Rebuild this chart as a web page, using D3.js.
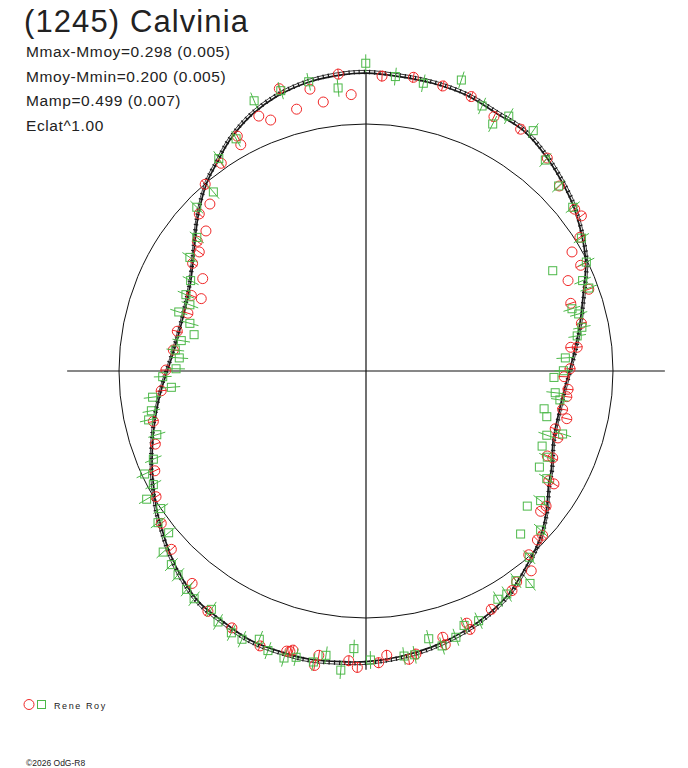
<!DOCTYPE html>
<html>
<head>
<meta charset="utf-8">
<script src="https://cdn.jsdelivr.net/npm/d3@7"></script>
<style>
  body { margin: 0; background: #fff; }
  text { font-family: "Liberation Sans", Arial, sans-serif; fill: #222; }
</style>
</head>
<body>
<div id="chart"></div>
<script>
// polar lightcurve, units: mean-brightness circle = 1
var title = '(1245) Calvinia';
var statLines = ['Mmax-Mmoy=0.298 (0.005)', 'Mmoy-Mmin=0.200 (0.005)', 'Mamp=0.499 (0.007)', 'Eclat^1.00'];
var observer = 'Rene Roy';
var footer = '\u00A92026 OdG-R8';

// fitted curve, read around the plot
var fitCurve = [
  [0, 1.206], [0.135, 1.192], [0.270, 1.165], [0.405, 1.117], [0.540, 1.036], [0.634, 0.976],
  [0.729, 0.868], [0.810, 0.733], [0.850, 0.638], [0.889, 0.45], [0.880, 0.315], [0.864, 0.179],
  [0.842, 0.072], [0.821, -0.009], [0.799, -0.090], [0.777, -0.185], [0.758, -0.279], [0.750, -0.401],
  [0.740, -0.455], [0.729, -0.576], [0.702, -0.684], [0.648, -0.792], [0.580, -0.900], [0.499, -0.981],
  [0.405, -1.049], [0.270, -1.116], [0.135, -1.157], [0, -1.177], [-0.092, -1.177], [-0.227, -1.167],
  [-0.335, -1.140], [-0.470, -1.089], [-0.591, -1.005], [-0.672, -0.940], [-0.740, -0.846], [-0.794, -0.738],
  [-0.821, -0.657], [-0.847, -0.563], [-0.861, -0.455], [-0.866, -0.387], [-0.861, -0.252], [-0.845, -0.145],
  [-0.821, -0.050], [-0.794, 0.031], [-0.769, 0.112], [-0.740, 0.220], [-0.713, 0.341], [-0.700, 0.445],
  [-0.680, 0.625], [-0.645, 0.760], [-0.604, 0.841], [-0.551, 0.935], [-0.470, 1.030], [-0.362, 1.111],
  [-0.227, 1.171], [-0.092, 1.200]
];

// session 1 (red circles), third value 0 = no error bar drawn
var redPoints = [
  [-0.112, 1.202], [-0.351, 1.143], [-0.227, 1.141, 0], [-0.060, 1.119, 0], [-0.173, 1.089, 0], [-0.281, 1.060, 0],
  [-0.434, 1.032, 0], [-0.386, 1.016, 0], [-0.521, 0.951], [-0.507, 0.916, 0], [-0.586, 0.841], [-0.651, 0.756],
  [-0.632, 0.676, 0], [-0.675, 0.636], [-0.648, 0.567, 0], [-0.683, 0.525], [-0.675, 0.482],
  [0.065, 1.194], [0.192, 1.189], [0.311, 1.154], [0.426, 1.111], [0.518, 1.030], [0.626, 0.979],
  [0.734, 0.862], [0.783, 0.749], [0.845, 0.655], [0.872, 0.628], [0.866, 0.541], [0.834, 0.482, 0],
  [0.869, 0.428], [0.818, 0.366, 0], [0.902, 0.331], [0.829, 0.274], [0.872, 0.193], [0.855, 0.096],
  [0.829, 0.096], [0.826, 0.009], [0.802, -0.023], [0.818, -0.074], [0.813, -0.104], [0.796, -0.155],
  [0.813, -0.193], [0.766, -0.234], [0.777, -0.271], [0.734, -0.344], [0.756, -0.352],
  [0.740, -0.444], [0.761, -0.457], [0.729, -0.547], [0.707, -0.568], [0.715, -0.665], [0.694, -0.684],
  [0.659, -0.744], [0.669, -0.809, 0], [0.610, -0.854], [0.591, -0.889], [0.507, -0.965], [0.408, -1.021],
  [0.421, -1.046], [0.311, -1.078], [0.321, -1.108], [0.202, -1.146], [0.173, -1.167], [0.084, -1.151],
  [0.051, -1.181],
  [-0.855, -0.404], [-0.850, -0.509], [-0.829, -0.617], [-0.788, -0.722], [-0.704, -0.860], [-0.640, -0.973],
  [-0.543, -1.040], [-0.429, -1.113], [-0.308, -1.135], [-0.321, -1.134], [-0.296, -1.130], [-0.191, -1.151],
  [-0.208, -1.192], [-0.070, -1.173], [-0.035, -1.200],
  [-0.702, 0.436], [-0.661, 0.374, 0], [-0.707, 0.306], [-0.667, 0.293, 0], [-0.721, 0.234], [-0.764, 0.161],
  [-0.780, 0.085], [-0.810, 0.004], [-0.829, -0.080], [-0.861, -0.204], [-0.853, -0.296]
];

// session 2 (green squares)
var greenPoints = [
  [-0.001, 1.246], [-0.232, 1.171], [-0.113, 1.146], [-0.345, 1.135], [-0.453, 1.094], [-0.526, 0.940],
  [-0.596, 0.860], [-0.618, 0.725], [-0.685, 0.663], [-0.685, 0.541], [-0.713, 0.460],
  [0.119, 1.192], [0.232, 1.165], [0.386, 1.178], [0.470, 1.073], [0.578, 1.032], [0.513, 1.000],
  [0.677, 0.973], [0.726, 0.854], [0.780, 0.749], [0.837, 0.663], [0.872, 0.538], [0.892, 0.441],
  [0.756, 0.406, 0], [0.877, 0.366], [0.902, 0.336], [0.834, 0.252], [0.861, 0.231], [0.874, 0.177],
  [0.855, 0.142], [0.807, 0.053], [0.799, 0.001], [0.761, -0.026, 0], [0.766, -0.088], [0.785, -0.117],
  [0.721, -0.153, 0], [0.732, -0.185, 0], [0.732, -0.260], [0.796, -0.255], [0.713, -0.304, 0],
  [0.734, -0.349], [0.702, -0.389, 0], [0.732, -0.436], [0.653, -0.547, 0], [0.707, -0.525],
  [0.626, -0.660, 0], [0.707, -0.644], [0.661, -0.754], [0.664, -0.860], [0.607, -0.849], [0.570, -0.903],
  [0.534, -0.924], [0.456, -1.011], [0.397, -1.030], [0.364, -1.078], [0.254, -1.084], [0.308, -1.113],
  [0.197, -1.149], [0.154, -1.154], [0.018, -1.170],
  [-0.896, -0.417], [-0.861, -0.460], [-0.888, -0.519], [-0.831, -0.557], [-0.842, -0.614], [-0.799, -0.655],
  [-0.821, -0.733], [-0.788, -0.784], [-0.761, -0.825], [-0.726, -0.884], [-0.696, -0.922], [-0.626, -0.965],
  [-0.599, -1.016], [-0.545, -1.060], [-0.502, -1.086], [-0.432, -1.086], [-0.397, -1.132], [-0.332, -1.162],
  [-0.283, -1.159], [-0.213, -1.178], [-0.162, -1.151], [-0.102, -1.211], [-0.049, -1.124],
  [-0.710, 0.366], [-0.729, 0.309], [-0.713, 0.268], [-0.758, 0.239], [-0.713, 0.193], [-0.696, 0.147, 0],
  [-0.748, 0.123], [-0.772, 0.085], [-0.756, 0.053], [-0.769, 0.009], [-0.823, -0.023], [-0.788, -0.066],
  [-0.864, -0.106], [-0.869, -0.161], [-0.880, -0.198], [-0.847, -0.258], [-0.861, -0.357]
];

var axisExtent = 1.21;
var errRed = 0.022, errGreen = 0.036;

var width = 688, height = 768;
var cx = 366, cy = 371, R = 247;

var x = d3.scaleLinear().domain([-1, 1]).range([cx - R, cx + R]);
var y = d3.scaleLinear().domain([-1, 1]).range([cy + R, cy - R]);

var svg = d3.select('#chart')
  .append('svg')
    .attr('width', width)
    .attr('height', height);

// mean circle
svg.append('circle')
  .attr('cx', x(0)).attr('cy', y(0))
  .attr('r', x(1) - x(0))
  .attr('fill', 'none')
  .attr('stroke', '#111')
  .attr('stroke-width', 1);

// axes
svg.append('line')
  .attr('x1', x(-axisExtent)).attr('x2', x(axisExtent))
  .attr('y1', y(0)).attr('y2', y(0))
  .attr('stroke', '#111').attr('stroke-width', 1.2);
svg.append('line')
  .attr('x1', x(0)).attr('x2', x(0))
  .attr('y1', y(axisExtent)).attr('y2', y(-axisExtent))
  .attr('stroke', '#111').attr('stroke-width', 1.2);

// fit curve, drawn a few times slightly scaled to get the hatched look
var line = d3.line()
  .x(function(d){ return x(d[0]); })
  .y(function(d){ return y(d[1]); })
  .curve(d3.curveCatmullRomClosed);

var scaled = function(k){
  return fitCurve.map(function(d){ return [d[0]*k, d[1]*k]; });
};

svg.append('path')
  .attr('d', line(scaled(1.0)))
  .attr('fill', 'none').attr('stroke', '#1a1a1a').attr('stroke-width', 1.7);
svg.append('path')
  .attr('d', line(scaled(1.009)))
  .attr('fill', 'none').attr('stroke', '#222').attr('stroke-width', 0.9);
svg.append('path')
  .attr('d', line(scaled(1.004)))
  .attr('fill', 'none').attr('stroke', '#1a1a1a').attr('stroke-width', 4.5)
  .attr('stroke-dasharray', '1.2,4');

// radial error bars
var errBar = function(g, pts, err, color){
  g.selectAll('line')
    .data(pts.filter(function(d){ return d[2] !== 0; }))
    .enter().append('line')
      .attr('x1', function(d){ var a = Math.atan2(d[1], d[0]), r = Math.hypot(d[0], d[1]) - err; return x(r*Math.cos(a)); })
      .attr('y1', function(d){ var a = Math.atan2(d[1], d[0]), r = Math.hypot(d[0], d[1]) - err; return y(r*Math.sin(a)); })
      .attr('x2', function(d){ var a = Math.atan2(d[1], d[0]), r = Math.hypot(d[0], d[1]) + err; return x(r*Math.cos(a)); })
      .attr('y2', function(d){ var a = Math.atan2(d[1], d[0]), r = Math.hypot(d[0], d[1]) + err; return y(r*Math.sin(a)); })
      .attr('stroke', color)
      .attr('stroke-width', 1);
};

var red = '#f02828', green = '#4cb848';

var gRed = svg.append('g');
errBar(gRed, redPoints, errRed, red);
gRed.selectAll('circle')
  .data(redPoints)
  .enter().append('circle')
    .attr('cx', function(d){ return x(d[0]); })
    .attr('cy', function(d){ return y(d[1]); })
    .attr('r', 5)
    .attr('fill', 'none')
    .attr('stroke', red)
    .attr('stroke-width', 1);

var gGreen = svg.append('g');
errBar(gGreen, greenPoints, errGreen, green);
gGreen.selectAll('rect')
  .data(greenPoints)
  .enter().append('rect')
    .attr('x', function(d){ return x(d[0]) - 4; })
    .attr('y', function(d){ return y(d[1]) - 4; })
    .attr('width', 8).attr('height', 8)
    .attr('fill', 'none')
    .attr('stroke', green)
    .attr('stroke-width', 1);

// texts
svg.append('text')
  .attr('x', 24).attr('y', 32)
  .style('font-size', '31px')
  .style('letter-spacing', '1.1px')
  .text(title);

svg.selectAll('.stat')
  .data(statLines)
  .enter().append('text')
    .attr('class', 'stat')
    .attr('x', 26)
    .attr('y', function(d, i){ return 57 + i*24.6; })
    .style('font-size', '15.5px')
    .style('letter-spacing', '0.6px')
    .text(function(d){ return d; });

// legend
svg.append('circle')
  .attr('cx', 29).attr('cy', 704.5).attr('r', 5)
  .attr('fill', 'none').attr('stroke', red);
svg.append('rect')
  .attr('x', 37.5).attr('y', 700.5).attr('width', 8).attr('height', 8)
  .attr('fill', 'none').attr('stroke', green);
svg.append('text')
  .attr('x', 54).attr('y', 708.5)
  .style('font-size', '9px')
  .style('letter-spacing', '1.6px')
  .text(observer);

svg.append('text')
  .attr('x', 26).attr('y', 766)
  .style('font-size', '8.5px')
  .text(footer);
</script>
</body>
</html>
